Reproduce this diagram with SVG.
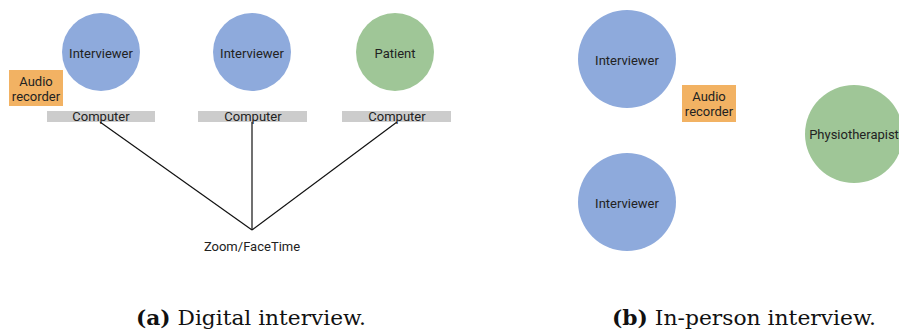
<svg xmlns="http://www.w3.org/2000/svg" width="899" height="332" viewBox="0 0 899 332">
  <style>
    .lbl { font-family: Roboto, "Liberation Sans", sans-serif; font-size: 13px; fill: #222; text-anchor: middle; dominant-baseline: central; }
    .blue { fill: #8eaadc; }
    .green { fill: #9fc697; }
    .rec { fill: #f2b263; }
    .pc { fill: #cccccc; }
    .link { stroke: #111; stroke-width: 1.2; fill: none; }
    .cap { font-family: "DejaVu Serif", "Liberation Serif", serif; font-size: 21px; fill: #111; }
  </style>
  <rect width="899" height="332" fill="#fff"/>

  <!-- connectors: each computer to the video call service -->
  <g id="connectors">
    <line class="link" x1="100" y1="122" x2="252" y2="230"/>
    <line class="link" x1="252" y1="122" x2="252" y2="230"/>
    <line class="link" x1="397" y1="122" x2="252" y2="230"/>
  </g>

  <!-- (a) digital interview -->
  <g id="a-interviewer-1"><circle class="blue" cx="101" cy="52" r="39"/><text class="lbl" x="101" y="53">Interviewer</text></g>
  <g id="a-interviewer-2"><circle class="blue" cx="252" cy="52" r="39"/><text class="lbl" x="252" y="53">Interviewer</text></g>
  <g id="a-patient"><circle class="green" cx="395" cy="52" r="39"/><text class="lbl" x="395" y="53">Patient</text></g>
  <g id="a-recorder"><rect class="rec" x="9" y="70" width="54" height="36"/><text class="lbl" x="36" y="81">Audio</text><text class="lbl" x="36" y="96">recorder</text></g>
  <g id="a-computer-1"><rect class="pc" x="47" y="111" width="108" height="11"/><text class="lbl" x="101" y="116">Computer</text></g>
  <g id="a-computer-2"><rect class="pc" x="198" y="111" width="109" height="11"/><text class="lbl" x="253" y="116">Computer</text></g>
  <g id="a-computer-3"><rect class="pc" x="342" y="111" width="109" height="11"/><text class="lbl" x="397" y="116">Computer</text></g>
  <g id="a-call"><text class="lbl" x="252" y="246">Zoom/FaceTime</text></g>

  <!-- (b) in-person interview -->
  <g id="b-interviewer-1"><circle class="blue" cx="627" cy="59" r="49"/><text class="lbl" x="627" y="60">Interviewer</text></g>
  <g id="b-interviewer-2"><circle class="blue" cx="627" cy="202" r="49"/><text class="lbl" x="627" y="203">Interviewer</text></g>
  <g id="b-recorder"><rect class="rec" x="682" y="85" width="54" height="37"/><text class="lbl" x="709" y="96">Audio</text><text class="lbl" x="709" y="111">recorder</text></g>
  <g id="b-physio"><circle class="green" cx="854" cy="134" r="49"/><text class="lbl" x="854" y="134">Physiotherapist</text></g>

  <!-- sub-figure captions -->
  <text class="cap" x="136" y="325" textLength="230" lengthAdjust="spacingAndGlyphs"><tspan font-weight="bold">(a)</tspan> Digital interview.</text>
  <text class="cap" x="612" y="325" textLength="264" lengthAdjust="spacingAndGlyphs"><tspan font-weight="bold">(b)</tspan> In-person interview.</text>
</svg>
